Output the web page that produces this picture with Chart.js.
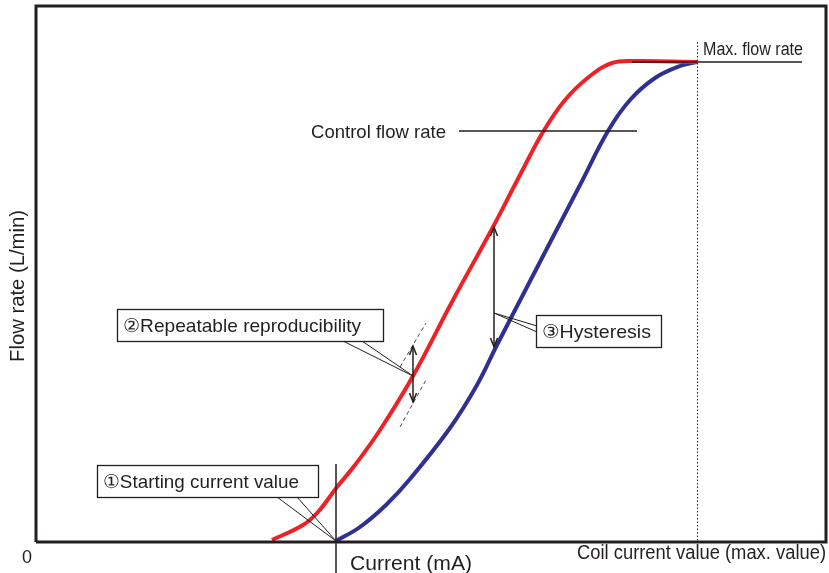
<!DOCTYPE html>
<html>
<head>
<meta charset="utf-8">
<script src="https://cdn.jsdelivr.net/npm/chart.js@4.4.0/dist/chart.umd.min.js"></script>
<style>
  html, body { margin: 0; padding: 0; background: #fff; }
  #wrap { width: 829px; height: 573px; position: relative; }
</style>
</head>
<body>
<div id="wrap"><canvas id="flowChart"></canvas></div>
<script>
// Curvas de caudal (unidades: corriente relativa, caudal relativo)
const risingCurrent = [236, 267, 282, 301, 319, 344, 377, 417, 457, 484, 507, 529, 554, 576, 599, 661];
const risingFlow    = [2, 17, 30, 55, 77, 112, 166, 242, 315, 367, 410, 442, 466, 479, 481, 480];
const fallingCurrent = [300, 324, 350, 374, 414, 441, 461, 491, 519, 544, 572, 594, 619, 644, 661];
const fallingFlow    = [1, 15, 37, 63, 114, 157, 197, 255, 309, 357, 411, 442, 464, 476, 480];

// Referencias del diagrama
const startCurrent = 300;
const maxCurrent = 661;
const maxFlow = 480;
const controlFlow = 411;
const repeatAt = 377;      // corriente donde se mide la repetibilidad
const hysteresisAt = 458;  // corriente donde se mide la histéresis

const redColor = '#ee2226';
const blueColor = '#2e3192';
const ink = '#231f20';
const FONT = '"Liberation Sans", Arial, sans-serif';

function toPoints(xs, ys) {
    return xs.map((x, i) => ({ x: x, y: ys[i] }));
}

// Texto ajustado a un ancho (la fuente original es algo condensada)
function fitText(ctx, text, x, y, size, width) {
    ctx.save();
    ctx.font = size + 'px ' + FONT;
    const w = ctx.measureText(text).width;
    ctx.translate(x, y);
    ctx.scale(width / w, 1);
    ctx.textAlign = 'left';
    ctx.fillText(text, 0, 0);
    ctx.restore();
}

function arrowHead(ctx, x, y, dir) {
    // dir: -1 hacia arriba, 1 hacia abajo
    ctx.beginPath();
    ctx.moveTo(x - 3.5, y - dir * 9);
    ctx.lineTo(x, y);
    ctx.lineTo(x + 3.5, y - dir * 9);
    ctx.stroke();
}

function calloutBox(ctx, x, y, w, h, text, textW, p1, p2, tip) {
    ctx.save();
    ctx.strokeStyle = ink;
    ctx.lineWidth = 1;
    ctx.beginPath();
    ctx.moveTo(p1[0], p1[1]);
    ctx.lineTo(tip[0], tip[1]);
    ctx.lineTo(p2[0], p2[1]);
    ctx.stroke();
    ctx.fillStyle = '#fff';
    ctx.fillRect(x, y, w, h);
    ctx.lineWidth = 1.3;
    ctx.strokeRect(x + 0.5, y + 0.5, w, h);
    ctx.fillStyle = ink;
    ctx.textBaseline = 'alphabetic';
    fitText(ctx, text, x + 6, y + h / 2 + 7, 19, textW);
    ctx.restore();
}

const diagramPlugin = {
    id: 'diagram',
    afterDatasetsDraw(chart) {
        const ctx = chart.ctx;
        const xs = chart.scales.x, ys = chart.scales.y;
        const X = v => xs.getPixelForValue(v);
        const Y = v => ys.getPixelForValue(v);
        const area = chart.chartArea;
        ctx.save();

        // Línea punteada de corriente máxima
        ctx.strokeStyle = ink;
        ctx.lineWidth = 1;
        ctx.setLineDash([1.5, 2]);
        ctx.beginPath();
        ctx.moveTo(X(maxCurrent) + 0.5, Y(maxFlow) - 20);
        ctx.lineTo(X(maxCurrent) + 0.5, area.bottom);
        ctx.stroke();
        ctx.setLineDash([]);

        // Caudal máximo y caudal de control
        ctx.lineWidth = 1.5;
        ctx.beginPath();
        ctx.moveTo(X(596), Y(maxFlow));
        ctx.lineTo(X(766), Y(maxFlow));
        ctx.moveTo(X(423), Y(controlFlow));
        ctx.lineTo(X(601), Y(controlFlow));
        ctx.stroke();

        // Línea vertical de corriente de arranque
        ctx.lineWidth = 1.5;
        ctx.beginPath();
        ctx.moveTo(X(startCurrent), Y(78));
        ctx.lineTo(X(startCurrent), 573);
        ctx.stroke();

        // Repetibilidad: flecha doble y guías punteadas
        const rx = X(repeatAt);
        ctx.lineWidth = 1.5;
        ctx.beginPath();
        ctx.moveTo(rx, Y(196));
        ctx.lineTo(rx, Y(140));
        ctx.stroke();
        arrowHead(ctx, rx, Y(196), -1);
        arrowHead(ctx, rx, Y(140), 1);
        ctx.lineWidth = 0.8;
        ctx.setLineDash([4, 3]);
        ctx.beginPath();
        ctx.moveTo(X(364), Y(175));
        ctx.lineTo(X(390), Y(219));
        ctx.moveTo(X(364), Y(115));
        ctx.lineTo(X(390), Y(162));
        ctx.stroke();
        ctx.setLineDash([]);

        // Histéresis: flecha doble entre las dos curvas
        const hx = X(hysteresisAt);
        ctx.lineWidth = 1.5;
        ctx.beginPath();
        ctx.moveTo(hx, Y(315));
        ctx.lineTo(hx, Y(195));
        ctx.stroke();
        arrowHead(ctx, hx, Y(315), -1);
        arrowHead(ctx, hx, Y(195), 1);

        // Cajas de llamada
        calloutBox(ctx, 97, 465, 221, 32, '\u2460Starting current value', 196,
            [277, 497], [297, 497], [X(startCurrent), Y(1)]);
        calloutBox(ctx, 117, 309, 266, 32, '\u2461Repeatable reproducibility', 238,
            [343, 341], [362, 341], [rx, Y(166)]);
        calloutBox(ctx, 536, 315, 125, 32, '\u2462Hysteresis', 109,
            [537, 326], [537, 332], [hx, Y(229)]);

        // Marco
        ctx.strokeStyle = ink;
        ctx.lineWidth = 3;
        ctx.beginPath();
        ctx.moveTo(area.left, area.bottom);
        ctx.lineTo(area.left, area.top);
        ctx.lineTo(area.right, area.top);
        ctx.lineTo(area.right, area.bottom);
        ctx.lineTo(area.left, area.bottom);
        ctx.stroke();

        // Textos
        ctx.fillStyle = ink;
        ctx.textBaseline = 'alphabetic';
        fitText(ctx, 'Control flow rate', 311, 138, 19, 135);
        fitText(ctx, 'Max. flow rate', 703, 55, 18, 100);
        fitText(ctx, 'Coil current value (max. value)', 577, 559, 20, 249);
        fitText(ctx, '0', 22, 563, 18, 10);
        fitText(ctx, 'Current (mA)', 350, 570, 21, 122);
        ctx.save();
        ctx.translate(24, 362);
        ctx.rotate(-Math.PI / 2);
        fitText(ctx, 'Flow rate (L/min)', 0, 0, 20, 152);
        ctx.restore();

        ctx.restore();
    }
};

const ctx = document.getElementById('flowChart').getContext('2d');
new Chart(ctx, {
    type: 'scatter',
    data: {
        datasets: [
            {
                label: 'Current increasing',
                data: toPoints(risingCurrent, risingFlow),
                showLine: true,
                borderColor: redColor,
                borderWidth: 4,
                pointRadius: 0,
                tension: 0.4
            },
            {
                label: 'Current decreasing',
                data: toPoints(fallingCurrent, fallingFlow),
                showLine: true,
                borderColor: blueColor,
                borderWidth: 4,
                pointRadius: 0,
                tension: 0.4
            }
        ]
    },
    options: {
        responsive: true,
        maintainAspectRatio: false,
        animation: false,
        layout: { padding: { left: 36, top: 6, right: 3, bottom: 31 } },
        plugins: { legend: { display: false }, tooltip: { enabled: false } },
        scales: {
            x: { type: 'linear', min: 0, max: 790, display: false },
            y: { type: 'linear', min: 0, max: 536, display: false }
        }
    },
    plugins: [diagramPlugin]
});
</script>
</body>
</html>
